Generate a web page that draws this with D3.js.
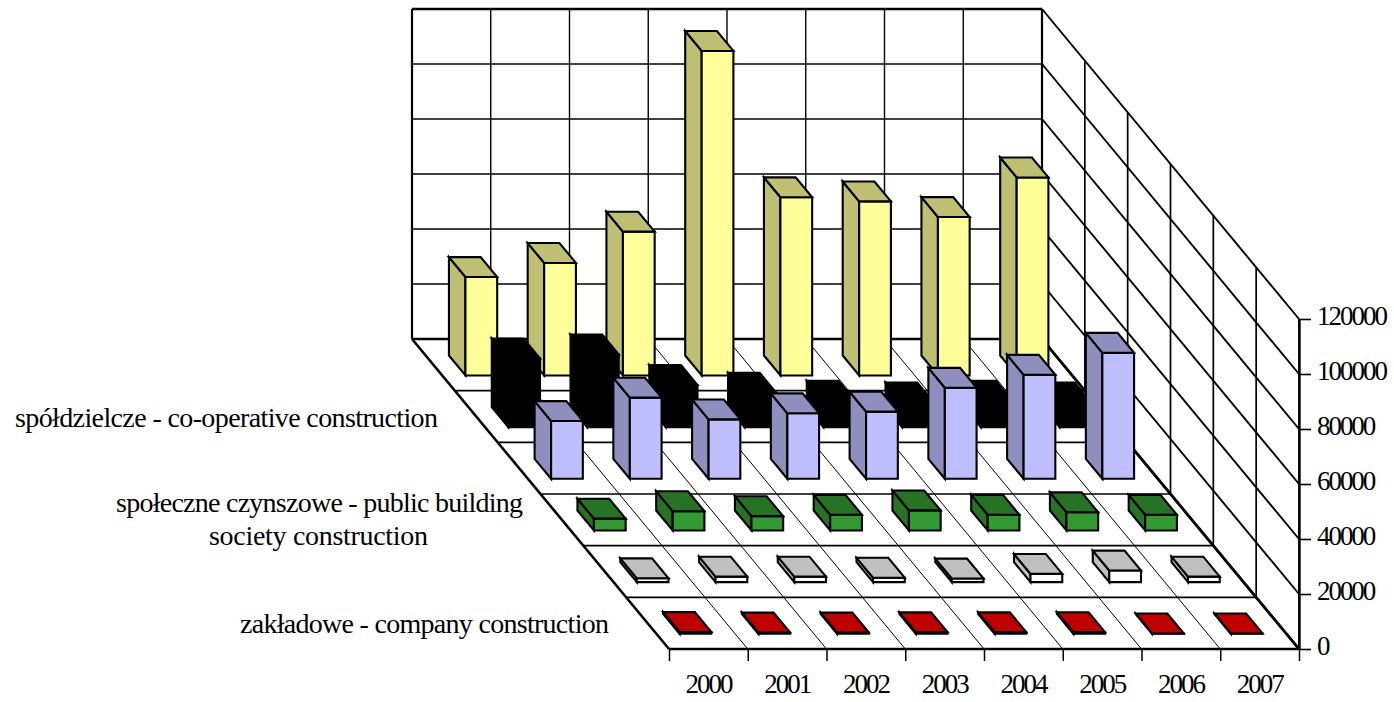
<!DOCTYPE html>
<html>
<head>
<meta charset="utf-8">
<script src="https://cdn.jsdelivr.net/npm/d3@7"></script>
<style>
  html, body { margin: 0; padding: 0; background: #fff; }
  svg { display: block; }
  text { font-family: "Liberation Serif", serif; fill: #000; }
</style>
</head>
<body>
<svg width="1394" height="702"></svg>
<script>
const years = ["2000", "2001", "2002", "2003", "2004", "2005", "2006", "2007"];
const zTicks = [0, 20000, 40000, 60000, 80000, 100000, 120000];

const zakladowe = [650, 450, 450, 550, 550, 600, 120, 120];
const seriesWhite = [1400, 2000, 2000, 1600, 1300, 3000, 4200, 2000];
const spoleczne = [4300, 7000, 5200, 5700, 7300, 5700, 6600, 5700];
const seriesBlue = [21000, 29500, 21600, 23800, 24400, 33100, 37800, 45800];
const seriesBlack = [25000, 26400, 15300, 12500, 9600, 9000, 9600, 9000];
const spoldzielcze = [35800, 40900, 52300, 118000, 64800, 63300, 57600, 72000];

const seriesNames = [
  "spółdzielcze - co-operative construction",
  "społeczne czynszowe - public building",
  "society construction",
  "zakładowe - company construction"
];

const svg = d3.select("svg");

// front row first, the way the depth axis counts
const rows = [
  { values: zakladowe, front: "#bf0000", side: "#bf0000" },
  { values: seriesWhite, front: "#ffffff", side: "#bfbfbf" },
  { values: spoleczne, front: "#339933", side: "#267326" },
  { values: seriesBlue, front: "#bfbfff", side: "#8f8fbf" },
  { values: seriesBlack, front: "#000000", side: "#000000" },
  { values: spoldzielcze, front: "#ffff99", side: "#bfbf73" }
];

const nx = years.length;
const nd = rows.length;

const xPos = d3.scaleLinear().domain([0, nx]).range([669, 1299]);
const depthX = d3.scaleLinear().domain([0, nd]).range([0, -257]);
const depthY = d3.scaleLinear().domain([0, nd]).range([649, 339]);
const zScale = d3.scaleLinear().domain([0, 120000]).range([0, 330]);

// oblique projection: category position, depth position, value
const project = (x, d, v) => [xPos(x) + depthX(d), depthY(d) - zScale(v)];
const line = d3.line();
const poly = pts => line(pts) + "Z";

const grid = svg.append("g").attr("fill", "none").attr("stroke", "#000");

// back wall
zTicks.forEach(v => {
  grid.append("path").attr("d", line([project(0, nd, v), project(nx, nd, v)]))
    .attr("stroke-width", v === 120000 || v === 0 ? 2.6 : 1.5);
  // right wall
  grid.append("path").attr("d", line([project(nx, nd, v), project(nx, 0, v)]))
    .attr("stroke-width", v === 0 ? 2.6 : 1.9);
});
d3.range(0, nx + 1).forEach(i => {
  grid.append("path").attr("d", line([project(i, nd, 0), project(i, nd, 120000)]))
    .attr("stroke-width", i === 0 || i === nx ? 2.2 : 1.4);
  // floor lines between the years
  grid.append("path").attr("d", line([project(i, nd, 0), project(i, 0, 0)]))
    .attr("stroke-width", i === 0 || i === nx ? 2.6 : 1);
});
d3.range(0, nd).forEach(r => {
  grid.append("path").attr("d", line([project(0, r, 0), project(nx, r, 0)]))
    .attr("stroke-width", r === 0 ? 2.4 : 1.7);
  // right wall uprights
  grid.append("path").attr("d", line([project(nx, r, 0), project(nx, r, 120000)]))
    .attr("stroke-width", 1.7);
});

// bars, back row to front row
const barLeft = 0.295, barRight = 0.698, barFront = 0.295, barBack = 0.68;
const bars = svg.append("g").attr("stroke", "#000").attr("stroke-width", 2.1).attr("stroke-linejoin", "miter");

d3.range(nd - 1, -1, -1).forEach(r => {
  const s = rows[r];
  s.values.forEach((v, i) => {
    const xl = i + barLeft, xr = i + barRight, df = r + barFront, db = r + barBack;
    const g = bars.append("g");
    g.append("path").attr("fill", s.side)
      .attr("d", poly([project(xl, df, 0), project(xl, db, 0), project(xl, db, v), project(xl, df, v)]));
    g.append("path").attr("fill", s.front)
      .attr("d", poly([project(xl, df, 0), project(xr, df, 0), project(xr, df, v), project(xl, df, v)]));
    g.append("path").attr("fill", s.side)
      .attr("d", poly([project(xl, df, v), project(xr, df, v), project(xr, db, v), project(xl, db, v)]));
  });
});

// axes
svg.append("g").attr("transform", "translate(0,649)")
  .call(d3.axisBottom(xPos).tickValues(d3.range(0, nx + 1)).tickSize(12).tickFormat(""))
  .call(g => g.select(".domain").remove())
  .call(g => g.selectAll("line").attr("stroke", "#000").attr("stroke-width", 1.5));

const yearBand = d3.scaleBand().domain(years).range([670, 1300]);
svg.append("g").attr("transform", "translate(0,693)")
  .call(d3.axisBottom(yearBand).tickSize(0).tickPadding(0))
  .call(g => g.select(".domain").remove())
  .call(g => g.selectAll("text")
    .attr("y", 0).attr("dy", 0)
    .attr("font-size", 27).attr("font-family", "Liberation Serif")
    .attr("textLength", 48));

const valueAxis = d3.scaleLinear().domain([0, 120000]).range([649, 319]);
svg.append("g").attr("transform", "translate(1299,0)")
  .call(d3.axisRight(valueAxis).tickValues(zTicks).tickSize(12).tickSizeOuter(0).tickPadding(6).tickFormat(d3.format("d")))
  .call(g => g.select(".domain").attr("stroke", "#000").attr("stroke-width", 2.4))
  .call(g => g.selectAll("line").attr("stroke", "#000").attr("stroke-width", 1.6))
  .call(g => g.selectAll("text")
    .attr("dy", "5.5px")
    .attr("font-size", 27).attr("font-family", "Liberation Serif")
    .attr("textLength", d => String(d).length * 11.85));

// series names on the left
const labelX = [15, 116, 209, 240];
const labelY = [427, 512, 545, 633];
const labelW = [423, 407, 219, 369];
svg.append("g").selectAll("text").data(seriesNames).join("text")
  .attr("x", (d, i) => labelX[i])
  .attr("y", (d, i) => labelY[i])
  .attr("font-size", 28)
  .attr("textLength", (d, i) => labelW[i])
  .text(d => d);
</script>
</body>
</html>
